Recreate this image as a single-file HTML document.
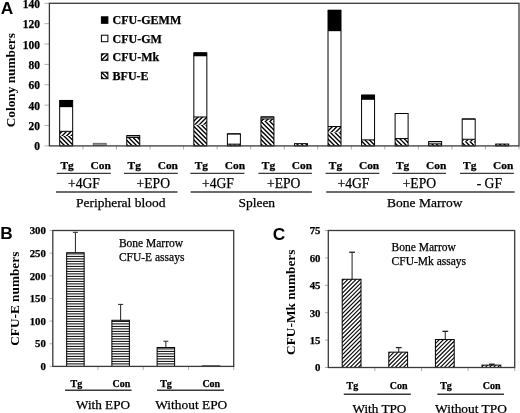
<!DOCTYPE html>
<html><head><meta charset="utf-8"><title>Figure</title>
<style>
html,body{margin:0;padding:0;background:#fff;width:520px;height:413px;overflow:hidden;}
svg{display:block;font-family:"Liberation Serif", serif;will-change:transform;}
</style></head><body>
<svg width="520" height="413" viewBox="0 0 520 413">
<rect width="520" height="413" fill="#fff"/>
<defs>
<pattern id="pbk" patternUnits="userSpaceOnUse" width="2.64" height="10" patternTransform="rotate(-45)"><rect width="2.64" height="10" fill="#fff"/><rect x="0" width="1.3" height="10" fill="#000"/></pattern>
<pattern id="pfw" patternUnits="userSpaceOnUse" width="2.64" height="10" patternTransform="rotate(45)"><rect width="2.64" height="10" fill="#fff"/><rect x="0" width="1.3" height="10" fill="#000"/></pattern>
<pattern id="pfc" patternUnits="userSpaceOnUse" width="2.9" height="10" patternTransform="rotate(45)"><rect width="2.9" height="10" fill="#fff"/><rect x="0" width="1.25" height="10" fill="#000"/></pattern>
<pattern id="phz" patternUnits="userSpaceOnUse" width="10" height="2.5"><rect width="10" height="2.5" fill="#fff"/><rect y="0" width="10" height="1.1" fill="#000"/></pattern>
</defs>
<text x="0.7" y="13.8" font-size="17.3" font-weight="bold" text-anchor="start" style='font-family:"Liberation Sans", sans-serif' >A</text>
<text x="0.2" y="239.3" font-size="17.3" font-weight="bold" text-anchor="start" style='font-family:"Liberation Sans", sans-serif' >B</text>
<text x="272.7" y="239.7" font-size="17.3" font-weight="bold" text-anchor="start" style='font-family:"Liberation Sans", sans-serif' >C</text>
<line x1="44.5" x2="49.4" y1="145.9" y2="145.9" stroke="#b0b0b0" stroke-width="1"/>
<text x="39.9" y="150.4" font-size="11.5" font-weight="bold" text-anchor="end" style='font-family:"Liberation Serif", serif' stroke="#000" stroke-width="0.25" >0</text>
<line x1="44.5" x2="49.4" y1="125.53" y2="125.53" stroke="#b0b0b0" stroke-width="1"/>
<text x="39.9" y="130.03" font-size="11.5" font-weight="bold" text-anchor="end" style='font-family:"Liberation Serif", serif' stroke="#000" stroke-width="0.25" >20</text>
<line x1="44.5" x2="49.4" y1="105.16" y2="105.16" stroke="#b0b0b0" stroke-width="1"/>
<text x="39.9" y="109.66" font-size="11.5" font-weight="bold" text-anchor="end" style='font-family:"Liberation Serif", serif' stroke="#000" stroke-width="0.25" >40</text>
<line x1="44.5" x2="49.4" y1="84.79" y2="84.79" stroke="#b0b0b0" stroke-width="1"/>
<text x="39.9" y="89.29" font-size="11.5" font-weight="bold" text-anchor="end" style='font-family:"Liberation Serif", serif' stroke="#000" stroke-width="0.25" >60</text>
<line x1="44.5" x2="49.4" y1="64.41" y2="64.41" stroke="#b0b0b0" stroke-width="1"/>
<text x="39.9" y="68.91" font-size="11.5" font-weight="bold" text-anchor="end" style='font-family:"Liberation Serif", serif' stroke="#000" stroke-width="0.25" >80</text>
<line x1="44.5" x2="49.4" y1="44.04" y2="44.04" stroke="#b0b0b0" stroke-width="1"/>
<text x="39.9" y="48.54" font-size="11.5" font-weight="bold" text-anchor="end" style='font-family:"Liberation Serif", serif' stroke="#000" stroke-width="0.25" >100</text>
<line x1="44.5" x2="49.4" y1="23.67" y2="23.67" stroke="#b0b0b0" stroke-width="1"/>
<text x="39.9" y="28.17" font-size="11.5" font-weight="bold" text-anchor="end" style='font-family:"Liberation Serif", serif' stroke="#000" stroke-width="0.25" >120</text>
<line x1="44.5" x2="49.4" y1="3.3" y2="3.3" stroke="#b0b0b0" stroke-width="1"/>
<text x="39.9" y="8.3" font-size="11.5" font-weight="bold" text-anchor="end" style='font-family:"Liberation Serif", serif' stroke="#000" stroke-width="0.25" >140</text>
<line x1="82.94" x2="82.94" y1="145.9" y2="149.5" stroke="#b0b0b0" stroke-width="1"/>
<line x1="116.49" x2="116.49" y1="145.9" y2="149.5" stroke="#b0b0b0" stroke-width="1"/>
<line x1="150.03" x2="150.03" y1="145.9" y2="149.5" stroke="#b0b0b0" stroke-width="1"/>
<line x1="183.57" x2="183.57" y1="145.9" y2="149.5" stroke="#b0b0b0" stroke-width="1"/>
<line x1="217.11" x2="217.11" y1="145.9" y2="149.5" stroke="#b0b0b0" stroke-width="1"/>
<line x1="250.66" x2="250.66" y1="145.9" y2="149.5" stroke="#b0b0b0" stroke-width="1"/>
<line x1="284.2" x2="284.2" y1="145.9" y2="149.5" stroke="#b0b0b0" stroke-width="1"/>
<line x1="317.74" x2="317.74" y1="145.9" y2="149.5" stroke="#b0b0b0" stroke-width="1"/>
<line x1="351.29" x2="351.29" y1="145.9" y2="149.5" stroke="#b0b0b0" stroke-width="1"/>
<line x1="384.83" x2="384.83" y1="145.9" y2="149.5" stroke="#b0b0b0" stroke-width="1"/>
<line x1="418.37" x2="418.37" y1="145.9" y2="149.5" stroke="#b0b0b0" stroke-width="1"/>
<line x1="451.91" x2="451.91" y1="145.9" y2="149.5" stroke="#b0b0b0" stroke-width="1"/>
<line x1="485.46" x2="485.46" y1="145.9" y2="149.5" stroke="#b0b0b0" stroke-width="1"/>
<line x1="519" x2="519" y1="145.9" y2="149.5" stroke="#b0b0b0" stroke-width="1"/>
<clipPath id="c1"><rect x="59.67" y="135.92" width="13" height="9.98"/></clipPath>
<rect x="59.67" y="135.92" width="13" height="9.98" fill="#fff"/>
<path clip-path="url(#c1)" d="M57.67 116.17L74.67 133.17M57.67 120.67L74.67 137.67M57.67 125.17L74.67 142.17M57.67 129.67L74.67 146.67M57.67 134.17L74.67 151.17M57.67 138.67L74.67 155.67M57.67 143.17L74.67 160.17M57.67 147.67L74.67 164.67" stroke="#000" stroke-width="1.4" fill="none"/>
<clipPath id="c2"><rect x="59.67" y="131.33" width="13" height="4.58"/></clipPath>
<rect x="59.67" y="131.33" width="13" height="4.58" fill="#fff"/>
<path clip-path="url(#c2)" d="M57.67 126.83L74.67 109.83M57.67 131.33L74.67 114.33M57.67 135.83L74.67 118.83M57.67 140.33L74.67 123.33M57.67 144.83L74.67 127.83M57.67 149.33L74.67 132.33M57.67 153.83L74.67 136.83" stroke="#000" stroke-width="1.4" fill="none"/>
<rect x="59.67" y="106.58" width="13" height="24.75" fill="#fff"/>
<rect x="59.67" y="100.47" width="13" height="6.11" fill="#000"/>
<line x1="59.67" x2="72.67" y1="131.33" y2="131.33" stroke="#000" stroke-width="1"/>
<line x1="59.67" x2="72.67" y1="106.58" y2="106.58" stroke="#000" stroke-width="1"/>
<line x1="59.67" x2="72.67" y1="106.58" y2="106.58" stroke="#000" stroke-width="1"/>
<line x1="59.67" x2="72.67" y1="100.47" y2="100.47" stroke="#000" stroke-width="1"/>
<rect x="59.67" y="100.47" width="13" height="45.43" fill="none" stroke="#000" stroke-width="1"/>
<rect x="93.21" y="143.3" width="13" height="2.0" fill="#9a9a9a" stroke="#555" stroke-width="0.8"/>
<clipPath id="c3"><rect x="126.76" y="137.45" width="13" height="8.45"/></clipPath>
<rect x="126.76" y="137.45" width="13" height="8.45" fill="#fff"/>
<path clip-path="url(#c3)" d="M124.76 115.76L141.76 132.76M124.76 120.26L141.76 137.26M124.76 124.76L141.76 141.76M124.76 129.26L141.76 146.26M124.76 133.76L141.76 150.76M124.76 138.26L141.76 155.26M124.76 142.76L141.76 159.76M124.76 147.26L141.76 164.26" stroke="#000" stroke-width="1.4" fill="none"/>
<rect x="126.76" y="135.71" width="13" height="1.73" fill="#fff"/>
<line x1="126.76" x2="139.76" y1="137.45" y2="137.45" stroke="#000" stroke-width="1"/>
<line x1="126.76" x2="139.76" y1="135.71" y2="135.71" stroke="#000" stroke-width="1"/>
<rect x="126.76" y="135.71" width="13" height="10.19" fill="none" stroke="#000" stroke-width="1"/>
<clipPath id="c4"><rect x="193.84" y="124.71" width="13" height="21.19"/></clipPath>
<rect x="193.84" y="124.71" width="13" height="21.19" fill="#fff"/>
<path clip-path="url(#c4)" d="M191.84 101.84L208.84 118.84M191.84 106.34L208.84 123.34M191.84 110.84L208.84 127.84M191.84 115.34L208.84 132.34M191.84 119.84L208.84 136.84M191.84 124.34L208.84 141.34M191.84 128.84L208.84 145.84M191.84 133.34L208.84 150.34M191.84 137.84L208.84 154.84M191.84 142.34L208.84 159.34M191.84 146.84L208.84 163.84" stroke="#000" stroke-width="1.4" fill="none"/>
<clipPath id="c5"><rect x="193.84" y="116.97" width="13" height="7.74"/></clipPath>
<rect x="193.84" y="116.97" width="13" height="7.74" fill="#fff"/>
<path clip-path="url(#c5)" d="M191.84 114.16L208.84 97.16M191.84 118.66L208.84 101.66M191.84 123.16L208.84 106.16M191.84 127.66L208.84 110.66M191.84 132.16L208.84 115.16M191.84 136.66L208.84 119.66M191.84 141.16L208.84 124.16" stroke="#000" stroke-width="1.4" fill="none"/>
<rect x="193.84" y="55.65" width="13" height="61.32" fill="#fff"/>
<rect x="193.84" y="52.9" width="13" height="2.75" fill="#000"/>
<line x1="193.84" x2="206.84" y1="116.97" y2="116.97" stroke="#000" stroke-width="1"/>
<line x1="193.84" x2="206.84" y1="55.65" y2="55.65" stroke="#000" stroke-width="1"/>
<line x1="193.84" x2="206.84" y1="55.65" y2="55.65" stroke="#000" stroke-width="1"/>
<line x1="193.84" x2="206.84" y1="52.9" y2="52.9" stroke="#000" stroke-width="1"/>
<rect x="193.84" y="52.9" width="13" height="93" fill="none" stroke="#000" stroke-width="1"/>
<clipPath id="c6"><rect x="227.39" y="144.17" width="13" height="1.73"/></clipPath>
<rect x="227.39" y="144.17" width="13" height="1.73" fill="#fff"/>
<path clip-path="url(#c6)" d="M225.39 121.89L242.39 138.89M225.39 126.39L242.39 143.39M225.39 130.89L242.39 147.89M225.39 135.39L242.39 152.39M225.39 139.89L242.39 156.89M225.39 144.39L242.39 161.39" stroke="#000" stroke-width="1.4" fill="none"/>
<rect x="227.39" y="133.88" width="13" height="10.29" fill="#fff"/>
<line x1="227.39" x2="240.39" y1="144.17" y2="144.17" stroke="#000" stroke-width="1"/>
<line x1="227.39" x2="240.39" y1="133.88" y2="133.88" stroke="#000" stroke-width="1"/>
<rect x="227.39" y="133.88" width="13" height="12.02" fill="none" stroke="#000" stroke-width="1"/>
<clipPath id="c7"><rect x="260.93" y="120.95" width="13" height="24.95"/></clipPath>
<rect x="260.93" y="120.95" width="13" height="24.95" fill="#fff"/>
<path clip-path="url(#c7)" d="M258.93 101.43L275.93 118.43M258.93 105.93L275.93 122.93M258.93 110.43L275.93 127.43M258.93 114.93L275.93 131.93M258.93 119.43L275.93 136.43M258.93 123.93L275.93 140.93M258.93 128.43L275.93 145.43M258.93 132.93L275.93 149.93M258.93 137.43L275.93 154.43M258.93 141.93L275.93 158.93M258.93 146.43L275.93 163.43" stroke="#000" stroke-width="1.4" fill="none"/>
<clipPath id="c8"><rect x="260.93" y="118.91" width="13" height="2.04"/></clipPath>
<rect x="260.93" y="118.91" width="13" height="2.04" fill="#fff"/>
<path clip-path="url(#c8)" d="M258.93 114.57L275.93 97.57M258.93 119.07L275.93 102.07M258.93 123.57L275.93 106.57M258.93 128.07L275.93 111.07M258.93 132.57L275.93 115.57M258.93 137.07L275.93 120.07" stroke="#000" stroke-width="1.4" fill="none"/>
<rect x="260.93" y="116.97" width="13" height="1.94" fill="#fff"/>
<line x1="260.93" x2="273.93" y1="118.91" y2="118.91" stroke="#000" stroke-width="1"/>
<line x1="260.93" x2="273.93" y1="116.97" y2="116.97" stroke="#000" stroke-width="1"/>
<rect x="260.93" y="116.97" width="13" height="28.93" fill="none" stroke="#000" stroke-width="1"/>
<clipPath id="c9"><rect x="294.47" y="143.66" width="13" height="2.24"/></clipPath>
<rect x="294.47" y="143.66" width="13" height="2.24" fill="#fff"/>
<path clip-path="url(#c9)" d="M292.47 121.47L309.47 138.47M292.47 125.97L309.47 142.97M292.47 130.47L309.47 147.47M292.47 134.97L309.47 151.97M292.47 139.47L309.47 156.47M292.47 143.97L309.47 160.97" stroke="#000" stroke-width="1.4" fill="none"/>
<rect x="294.47" y="143.66" width="13" height="2.24" fill="none" stroke="#000" stroke-width="1"/>
<clipPath id="c10"><rect x="328.01" y="132.25" width="13" height="13.65"/></clipPath>
<rect x="328.01" y="132.25" width="13" height="13.65" fill="#fff"/>
<path clip-path="url(#c10)" d="M326.01 110.01L343.01 127.01M326.01 114.51L343.01 131.51M326.01 119.01L343.01 136.01M326.01 123.51L343.01 140.51M326.01 128.01L343.01 145.01M326.01 132.51L343.01 149.51M326.01 137.01L343.01 154.01M326.01 141.51L343.01 158.51M326.01 146.01L343.01 163.01" stroke="#000" stroke-width="1.4" fill="none"/>
<clipPath id="c11"><rect x="328.01" y="126.55" width="13" height="5.7"/></clipPath>
<rect x="328.01" y="126.55" width="13" height="5.7" fill="#fff"/>
<path clip-path="url(#c11)" d="M326.01 123.99L343.01 106.99M326.01 128.49L343.01 111.49M326.01 132.99L343.01 115.99M326.01 137.49L343.01 120.49M326.01 141.99L343.01 124.99M326.01 146.49L343.01 129.49M326.01 150.99L343.01 133.99" stroke="#000" stroke-width="1.4" fill="none"/>
<rect x="328.01" y="30.6" width="13" height="95.95" fill="#fff"/>
<rect x="328.01" y="10.33" width="13" height="20.27" fill="#000"/>
<line x1="328.01" x2="341.01" y1="126.55" y2="126.55" stroke="#000" stroke-width="1"/>
<line x1="328.01" x2="341.01" y1="30.6" y2="30.6" stroke="#000" stroke-width="1"/>
<line x1="328.01" x2="341.01" y1="30.6" y2="30.6" stroke="#000" stroke-width="1"/>
<line x1="328.01" x2="341.01" y1="10.33" y2="10.33" stroke="#000" stroke-width="1"/>
<rect x="328.01" y="10.33" width="13" height="135.57" fill="none" stroke="#000" stroke-width="1"/>
<clipPath id="c12"><rect x="361.56" y="139.89" width="13" height="6.01"/></clipPath>
<rect x="361.56" y="139.89" width="13" height="6.01" fill="#fff"/>
<path clip-path="url(#c12)" d="M359.56 116.56L376.56 133.56M359.56 121.06L376.56 138.06M359.56 125.56L376.56 142.56M359.56 130.06L376.56 147.06M359.56 134.56L376.56 151.56M359.56 139.06L376.56 156.06M359.56 143.56L376.56 160.56M359.56 148.06L376.56 165.06" stroke="#000" stroke-width="1.4" fill="none"/>
<rect x="361.56" y="99.05" width="13" height="40.84" fill="#fff"/>
<rect x="361.56" y="95.18" width="13" height="3.87" fill="#000"/>
<line x1="361.56" x2="374.56" y1="139.89" y2="139.89" stroke="#000" stroke-width="1"/>
<line x1="361.56" x2="374.56" y1="99.05" y2="99.05" stroke="#000" stroke-width="1"/>
<line x1="361.56" x2="374.56" y1="99.05" y2="99.05" stroke="#000" stroke-width="1"/>
<line x1="361.56" x2="374.56" y1="95.18" y2="95.18" stroke="#000" stroke-width="1"/>
<rect x="361.56" y="95.18" width="13" height="50.72" fill="none" stroke="#000" stroke-width="1"/>
<clipPath id="c13"><rect x="395.1" y="140.09" width="13" height="5.81"/></clipPath>
<rect x="395.1" y="140.09" width="13" height="5.81" fill="#fff"/>
<path clip-path="url(#c13)" d="M393.1 118.6L410.1 135.6M393.1 123.1L410.1 140.1M393.1 127.6L410.1 144.6M393.1 132.1L410.1 149.1M393.1 136.6L410.1 153.6M393.1 141.1L410.1 158.1M393.1 145.6L410.1 162.6" stroke="#000" stroke-width="1.4" fill="none"/>
<clipPath id="c14"><rect x="395.1" y="138.57" width="13" height="1.53"/></clipPath>
<rect x="395.1" y="138.57" width="13" height="1.53" fill="#fff"/>
<path clip-path="url(#c14)" d="M393.1 133.4L410.1 116.4M393.1 137.9L410.1 120.9M393.1 142.4L410.1 125.4M393.1 146.9L410.1 129.9M393.1 151.4L410.1 134.4M393.1 155.9L410.1 138.9" stroke="#000" stroke-width="1.4" fill="none"/>
<rect x="395.1" y="113.51" width="13" height="25.06" fill="#fff"/>
<line x1="395.1" x2="408.1" y1="138.57" y2="138.57" stroke="#000" stroke-width="1"/>
<line x1="395.1" x2="408.1" y1="113.51" y2="113.51" stroke="#000" stroke-width="1"/>
<rect x="395.1" y="113.51" width="13" height="32.39" fill="none" stroke="#000" stroke-width="1"/>
<clipPath id="c15"><rect x="428.64" y="143.86" width="13" height="2.04"/></clipPath>
<rect x="428.64" y="143.86" width="13" height="2.04" fill="#fff"/>
<path clip-path="url(#c15)" d="M426.64 120.64L443.64 137.64M426.64 125.14L443.64 142.14M426.64 129.64L443.64 146.64M426.64 134.14L443.64 151.14M426.64 138.64L443.64 155.64M426.64 143.14L443.64 160.14M426.64 147.64L443.64 164.64" stroke="#000" stroke-width="1.4" fill="none"/>
<rect x="428.64" y="141.62" width="13" height="2.24" fill="#fff"/>
<line x1="428.64" x2="441.64" y1="143.86" y2="143.86" stroke="#000" stroke-width="1"/>
<line x1="428.64" x2="441.64" y1="141.62" y2="141.62" stroke="#000" stroke-width="1"/>
<rect x="428.64" y="141.62" width="13" height="4.28" fill="none" stroke="#000" stroke-width="1"/>
<clipPath id="c16"><rect x="462.19" y="141.83" width="13" height="4.07"/></clipPath>
<rect x="462.19" y="141.83" width="13" height="4.07" fill="#fff"/>
<path clip-path="url(#c16)" d="M460.19 118.19L477.19 135.19M460.19 122.69L477.19 139.69M460.19 127.19L477.19 144.19M460.19 131.69L477.19 148.69M460.19 136.19L477.19 153.19M460.19 140.69L477.19 157.69M460.19 145.19L477.19 162.19" stroke="#000" stroke-width="1.4" fill="none"/>
<clipPath id="c17"><rect x="462.19" y="139.28" width="13" height="2.55"/></clipPath>
<rect x="462.19" y="139.28" width="13" height="2.55" fill="#fff"/>
<path clip-path="url(#c17)" d="M460.19 133.81L477.19 116.81M460.19 138.31L477.19 121.31M460.19 142.81L477.19 125.81M460.19 147.31L477.19 130.31M460.19 151.81L477.19 134.81M460.19 156.31L477.19 139.31M460.19 160.81L477.19 143.81" stroke="#000" stroke-width="1.4" fill="none"/>
<rect x="462.19" y="119.01" width="13" height="20.27" fill="#fff"/>
<line x1="462.19" x2="475.19" y1="139.28" y2="139.28" stroke="#000" stroke-width="1"/>
<line x1="462.19" x2="475.19" y1="119.01" y2="119.01" stroke="#000" stroke-width="1"/>
<rect x="462.19" y="119.01" width="13" height="26.89" fill="none" stroke="#000" stroke-width="1"/>
<clipPath id="c18"><rect x="495.73" y="144.07" width="13" height="1.83"/></clipPath>
<rect x="495.73" y="144.07" width="13" height="1.83" fill="#fff"/>
<path clip-path="url(#c18)" d="M493.73 120.23L510.73 137.23M493.73 124.73L510.73 141.73M493.73 129.23L510.73 146.23M493.73 133.73L510.73 150.73M493.73 138.23L510.73 155.23M493.73 142.73L510.73 159.73M493.73 147.23L510.73 164.23" stroke="#000" stroke-width="1.4" fill="none"/>
<rect x="495.73" y="144.07" width="13" height="1.83" fill="none" stroke="#000" stroke-width="1"/>
<rect x="49.4" y="3.3" width="469.6" height="142.6" fill="none" stroke="#3a3a3a" stroke-width="1.3"/>
<rect x="101.4" y="16.8" width="6.5" height="6.5" fill="#000" stroke="#000" stroke-width="1"/>
<text x="112.6" y="24" font-size="12" font-weight="bold" text-anchor="start" style='font-family:"Liberation Serif", serif' stroke="#000" stroke-width="0.25" >CFU-GEMM</text>
<rect x="101.4" y="35.2" width="6.5" height="6.5" fill="#fff" stroke="#000" stroke-width="1"/>
<text x="112.6" y="42.5" font-size="12" font-weight="bold" text-anchor="start" style='font-family:"Liberation Serif", serif' stroke="#000" stroke-width="0.25" >CFU-GM</text>
<clipPath id="c19"><rect x="101.4" y="53.8" width="6.5" height="6.5"/></clipPath>
<rect x="101.4" y="53.8" width="6.5" height="6.5" fill="#fff"/>
<path clip-path="url(#c19)" d="M99.4 48.8L109.9 38.3M99.4 53.3L109.9 42.8M99.4 57.8L109.9 47.3M99.4 62.3L109.9 51.8M99.4 66.8L109.9 56.3M99.4 71.3L109.9 60.8" stroke="#000" stroke-width="1.4" fill="none"/>
<rect x="101.4" y="53.8" width="6.5" height="6.5" fill="none" stroke="#000" stroke-width="1"/>
<text x="112.6" y="61.1" font-size="12" font-weight="bold" text-anchor="start" style='font-family:"Liberation Serif", serif' stroke="#000" stroke-width="0.25" >CFU-Mk</text>
<clipPath id="c20"><rect x="101.4" y="72.2" width="6.5" height="6.5"/></clipPath>
<rect x="101.4" y="72.2" width="6.5" height="6.5" fill="#fff"/>
<path clip-path="url(#c20)" d="M99.4 56.7L109.9 67.2M99.4 61.2L109.9 71.7M99.4 65.7L109.9 76.2M99.4 70.2L109.9 80.7M99.4 74.7L109.9 85.2M99.4 79.2L109.9 89.7" stroke="#000" stroke-width="1.4" fill="none"/>
<rect x="101.4" y="72.2" width="6.5" height="6.5" fill="none" stroke="#000" stroke-width="1"/>
<text x="112.6" y="79.8" font-size="12" font-weight="bold" text-anchor="start" style='font-family:"Liberation Serif", serif' stroke="#000" stroke-width="0.25" >BFU-E</text>
<text transform="translate(15.2,80.2) rotate(-90)" font-size="13.3" font-weight="bold" text-anchor="middle" style='font-family:"Liberation Serif", serif'>Colony numbers</text>
<text x="67.17" y="168.8" font-size="11.4" font-weight="bold" text-anchor="middle" style='font-family:"Liberation Serif", serif' stroke="#000" stroke-width="0.25" >Tg</text>
<text x="100.71" y="168.8" font-size="11.4" font-weight="bold" text-anchor="middle" style='font-family:"Liberation Serif", serif' stroke="#000" stroke-width="0.25" >Con</text>
<text x="134.26" y="168.8" font-size="11.4" font-weight="bold" text-anchor="middle" style='font-family:"Liberation Serif", serif' stroke="#000" stroke-width="0.25" >Tg</text>
<text x="167.8" y="168.8" font-size="11.4" font-weight="bold" text-anchor="middle" style='font-family:"Liberation Serif", serif' stroke="#000" stroke-width="0.25" >Con</text>
<text x="201.34" y="168.8" font-size="11.4" font-weight="bold" text-anchor="middle" style='font-family:"Liberation Serif", serif' stroke="#000" stroke-width="0.25" >Tg</text>
<text x="234.89" y="168.8" font-size="11.4" font-weight="bold" text-anchor="middle" style='font-family:"Liberation Serif", serif' stroke="#000" stroke-width="0.25" >Con</text>
<text x="268.43" y="168.8" font-size="11.4" font-weight="bold" text-anchor="middle" style='font-family:"Liberation Serif", serif' stroke="#000" stroke-width="0.25" >Tg</text>
<text x="301.97" y="168.8" font-size="11.4" font-weight="bold" text-anchor="middle" style='font-family:"Liberation Serif", serif' stroke="#000" stroke-width="0.25" >Con</text>
<text x="335.51" y="168.8" font-size="11.4" font-weight="bold" text-anchor="middle" style='font-family:"Liberation Serif", serif' stroke="#000" stroke-width="0.25" >Tg</text>
<text x="369.06" y="168.8" font-size="11.4" font-weight="bold" text-anchor="middle" style='font-family:"Liberation Serif", serif' stroke="#000" stroke-width="0.25" >Con</text>
<text x="402.6" y="168.8" font-size="11.4" font-weight="bold" text-anchor="middle" style='font-family:"Liberation Serif", serif' stroke="#000" stroke-width="0.25" >Tg</text>
<text x="436.14" y="168.8" font-size="11.4" font-weight="bold" text-anchor="middle" style='font-family:"Liberation Serif", serif' stroke="#000" stroke-width="0.25" >Con</text>
<text x="469.69" y="168.8" font-size="11.4" font-weight="bold" text-anchor="middle" style='font-family:"Liberation Serif", serif' stroke="#000" stroke-width="0.25" >Tg</text>
<text x="503.23" y="168.8" font-size="11.4" font-weight="bold" text-anchor="middle" style='font-family:"Liberation Serif", serif' stroke="#000" stroke-width="0.25" >Con</text>
<line x1="56.7" x2="110.8" y1="173.4" y2="173.4" stroke="#3a3a3a" stroke-width="1.4"/>
<line x1="124" x2="177.8" y1="173.4" y2="173.4" stroke="#3a3a3a" stroke-width="1.4"/>
<line x1="190.3" x2="244.4" y1="173.4" y2="173.4" stroke="#3a3a3a" stroke-width="1.4"/>
<line x1="258.5" x2="311.9" y1="173.4" y2="173.4" stroke="#3a3a3a" stroke-width="1.4"/>
<line x1="325.6" x2="379.4" y1="173.4" y2="173.4" stroke="#3a3a3a" stroke-width="1.4"/>
<line x1="392.3" x2="446" y1="173.4" y2="173.4" stroke="#3a3a3a" stroke-width="1.4"/>
<line x1="460.1" x2="513.9" y1="173.4" y2="173.4" stroke="#3a3a3a" stroke-width="1.4"/>
<line x1="56" x2="177.5" y1="192" y2="192" stroke="#3a3a3a" stroke-width="1.4"/>
<line x1="190.6" x2="311.9" y1="192" y2="192" stroke="#3a3a3a" stroke-width="1.4"/>
<line x1="326.2" x2="514.6" y1="192" y2="192" stroke="#3a3a3a" stroke-width="1.4"/>
<text x="84" y="187.6" font-size="13.6" font-weight="normal" text-anchor="middle" style='font-family:"Liberation Serif", serif' stroke="#000" stroke-width="0.25" >+4GF</text>
<text x="153.3" y="187.6" font-size="13.6" font-weight="normal" text-anchor="middle" style='font-family:"Liberation Serif", serif' stroke="#000" stroke-width="0.25" >+EPO</text>
<text x="218" y="187.6" font-size="13.6" font-weight="normal" text-anchor="middle" style='font-family:"Liberation Serif", serif' stroke="#000" stroke-width="0.25" >+4GF</text>
<text x="283.75" y="187.6" font-size="13.6" font-weight="normal" text-anchor="middle" style='font-family:"Liberation Serif", serif' stroke="#000" stroke-width="0.25" >+EPO</text>
<text x="353.4" y="187.6" font-size="13.6" font-weight="normal" text-anchor="middle" style='font-family:"Liberation Serif", serif' stroke="#000" stroke-width="0.25" >+4GF</text>
<text x="419.35" y="187.6" font-size="13.6" font-weight="normal" text-anchor="middle" style='font-family:"Liberation Serif", serif' stroke="#000" stroke-width="0.25" >+EPO</text>
<text x="489.3" y="187.6" font-size="13.6" font-weight="normal" text-anchor="middle" style='font-family:"Liberation Serif", serif' stroke="#000" stroke-width="0.25" >- GF</text>
<text x="120.7" y="207.2" font-size="13.5" font-weight="normal" text-anchor="middle" style='font-family:"Liberation Serif", serif' stroke="#000" stroke-width="0.25" >Peripheral blood</text>
<text x="256.75" y="207.2" font-size="13.5" font-weight="normal" text-anchor="middle" style='font-family:"Liberation Serif", serif' stroke="#000" stroke-width="0.25" >Spleen</text>
<text x="424.8" y="207.2" font-size="13.5" font-weight="normal" text-anchor="middle" style='font-family:"Liberation Serif", serif' stroke="#000" stroke-width="0.25" >Bone Marrow</text>
<line x1="49.5" x2="52.8" y1="366.4" y2="366.4" stroke="#b0b0b0" stroke-width="1"/>
<text x="45.9" y="370.1" font-size="10.8" font-weight="bold" text-anchor="end" style='font-family:"Liberation Serif", serif' stroke="#000" stroke-width="0.25" >0</text>
<line x1="49.5" x2="52.8" y1="343.75" y2="343.75" stroke="#b0b0b0" stroke-width="1"/>
<text x="45.9" y="347.45" font-size="10.8" font-weight="bold" text-anchor="end" style='font-family:"Liberation Serif", serif' stroke="#000" stroke-width="0.25" >50</text>
<line x1="49.5" x2="52.8" y1="321.1" y2="321.1" stroke="#b0b0b0" stroke-width="1"/>
<text x="45.9" y="324.8" font-size="10.8" font-weight="bold" text-anchor="end" style='font-family:"Liberation Serif", serif' stroke="#000" stroke-width="0.25" >100</text>
<line x1="49.5" x2="52.8" y1="298.45" y2="298.45" stroke="#b0b0b0" stroke-width="1"/>
<text x="45.9" y="302.15" font-size="10.8" font-weight="bold" text-anchor="end" style='font-family:"Liberation Serif", serif' stroke="#000" stroke-width="0.25" >150</text>
<line x1="49.5" x2="52.8" y1="275.8" y2="275.8" stroke="#b0b0b0" stroke-width="1"/>
<text x="45.9" y="279.5" font-size="10.8" font-weight="bold" text-anchor="end" style='font-family:"Liberation Serif", serif' stroke="#000" stroke-width="0.25" >200</text>
<line x1="49.5" x2="52.8" y1="253.15" y2="253.15" stroke="#b0b0b0" stroke-width="1"/>
<text x="45.9" y="256.85" font-size="10.8" font-weight="bold" text-anchor="end" style='font-family:"Liberation Serif", serif' stroke="#000" stroke-width="0.25" >250</text>
<line x1="49.5" x2="52.8" y1="230.5" y2="230.5" stroke="#b0b0b0" stroke-width="1"/>
<text x="45.9" y="234.2" font-size="10.8" font-weight="bold" text-anchor="end" style='font-family:"Liberation Serif", serif' stroke="#000" stroke-width="0.25" >300</text>
<line x1="98.02" x2="98.02" y1="366.4" y2="370" stroke="#b0b0b0" stroke-width="1"/>
<line x1="143.25" x2="143.25" y1="366.4" y2="370" stroke="#b0b0b0" stroke-width="1"/>
<line x1="188.47" x2="188.47" y1="366.4" y2="370" stroke="#b0b0b0" stroke-width="1"/>
<line x1="233.7" x2="233.7" y1="366.4" y2="370" stroke="#b0b0b0" stroke-width="1"/>
<line x1="75.41" x2="75.41" y1="252.7" y2="232.31" stroke="#222" stroke-width="1"/>
<line x1="72.91" x2="77.91" y1="232.31" y2="232.31" stroke="#222" stroke-width="1"/>
<rect x="66.66" y="252.7" width="17.5" height="113.7" fill="#fff"/>
<path d="M66.66 363.9H84.16M66.66 361.4H84.16M66.66 358.9H84.16M66.66 356.4H84.16M66.66 353.9H84.16M66.66 351.4H84.16M66.66 348.9H84.16M66.66 346.4H84.16M66.66 343.9H84.16M66.66 341.4H84.16M66.66 338.9H84.16M66.66 336.4H84.16M66.66 333.9H84.16M66.66 331.4H84.16M66.66 328.9H84.16M66.66 326.4H84.16M66.66 323.9H84.16M66.66 321.4H84.16M66.66 318.9H84.16M66.66 316.4H84.16M66.66 313.9H84.16M66.66 311.4H84.16M66.66 308.9H84.16M66.66 306.4H84.16M66.66 303.9H84.16M66.66 301.4H84.16M66.66 298.9H84.16M66.66 296.4H84.16M66.66 293.9H84.16M66.66 291.4H84.16M66.66 288.9H84.16M66.66 286.4H84.16M66.66 283.9H84.16M66.66 281.4H84.16M66.66 278.9H84.16M66.66 276.4H84.16M66.66 273.9H84.16M66.66 271.4H84.16M66.66 268.9H84.16M66.66 266.4H84.16M66.66 263.9H84.16M66.66 261.4H84.16M66.66 258.9H84.16M66.66 256.4H84.16M66.66 253.9H84.16" stroke="#000" stroke-width="1" fill="none"/>
<rect x="66.66" y="252.7" width="17.5" height="113.7" fill="none" stroke="#000" stroke-width="1"/>
<line x1="120.64" x2="120.64" y1="320.28" y2="304.38" stroke="#222" stroke-width="1"/>
<line x1="118.14" x2="123.14" y1="304.38" y2="304.38" stroke="#222" stroke-width="1"/>
<rect x="111.89" y="320.28" width="17.5" height="46.12" fill="#fff"/>
<path d="M111.89 363.9H129.39M111.89 361.4H129.39M111.89 358.9H129.39M111.89 356.4H129.39M111.89 353.9H129.39M111.89 351.4H129.39M111.89 348.9H129.39M111.89 346.4H129.39M111.89 343.9H129.39M111.89 341.4H129.39M111.89 338.9H129.39M111.89 336.4H129.39M111.89 333.9H129.39M111.89 331.4H129.39M111.89 328.9H129.39M111.89 326.4H129.39M111.89 323.9H129.39M111.89 321.4H129.39" stroke="#000" stroke-width="1" fill="none"/>
<rect x="111.89" y="320.28" width="17.5" height="46.12" fill="none" stroke="#000" stroke-width="1"/>
<line x1="165.86" x2="165.86" y1="347.51" y2="341.21" stroke="#222" stroke-width="1"/>
<line x1="163.36" x2="168.36" y1="341.21" y2="341.21" stroke="#222" stroke-width="1"/>
<rect x="157.11" y="347.51" width="17.5" height="18.89" fill="#fff"/>
<path d="M157.11 363.9H174.61M157.11 361.4H174.61M157.11 358.9H174.61M157.11 356.4H174.61M157.11 353.9H174.61M157.11 351.4H174.61M157.11 348.9H174.61" stroke="#000" stroke-width="1" fill="none"/>
<rect x="157.11" y="347.51" width="17.5" height="18.89" fill="none" stroke="#000" stroke-width="1"/>
<rect x="202.34" y="365.95" width="17.5" height="0.45" fill="#fff"/>
<rect x="202.34" y="365.95" width="17.5" height="0.45" fill="none" stroke="#000" stroke-width="1"/>
<rect x="52.8" y="230.5" width="180.9" height="135.9" fill="none" stroke="#3a3a3a" stroke-width="1.3"/>
<text x="118.9" y="246.9" font-size="11.5" font-weight="normal" text-anchor="start" style='font-family:"Liberation Serif", serif' stroke="#000" stroke-width="0.25" >Bone Marrow</text>
<text x="118.9" y="260.9" font-size="11.5" font-weight="normal" text-anchor="start" style='font-family:"Liberation Serif", serif' stroke="#000" stroke-width="0.25" >CFU-E assays</text>
<text transform="translate(18.9,298.75) rotate(-90)" font-size="13.3" font-weight="bold" text-anchor="middle" style='font-family:"Liberation Serif", serif'>CFU-E numbers</text>
<text x="76.45" y="386.5" font-size="10" font-weight="bold" text-anchor="middle" style='font-family:"Liberation Serif", serif' stroke="#000" stroke-width="0.25" >Tg</text>
<text x="121.5" y="386.5" font-size="10" font-weight="bold" text-anchor="middle" style='font-family:"Liberation Serif", serif' stroke="#000" stroke-width="0.25" >Con</text>
<text x="166" y="386.5" font-size="10" font-weight="bold" text-anchor="middle" style='font-family:"Liberation Serif", serif' stroke="#000" stroke-width="0.25" >Tg</text>
<text x="211.3" y="386.5" font-size="10" font-weight="bold" text-anchor="middle" style='font-family:"Liberation Serif", serif' stroke="#000" stroke-width="0.25" >Con</text>
<line x1="65" x2="131.6" y1="390.3" y2="390.3" stroke="#3a3a3a" stroke-width="1.4"/>
<line x1="157" x2="224" y1="390.3" y2="390.3" stroke="#3a3a3a" stroke-width="1.4"/>
<text x="103" y="408.7" font-size="13.2" font-weight="normal" text-anchor="middle" style='font-family:"Liberation Serif", serif' stroke="#000" stroke-width="0.25" >With EPO</text>
<text x="191.25" y="408.7" font-size="13.4" font-weight="normal" text-anchor="middle" style='font-family:"Liberation Serif", serif' stroke="#000" stroke-width="0.25" >Without EPO</text>
<line x1="325" x2="328.3" y1="367.5" y2="367.5" stroke="#b0b0b0" stroke-width="1"/>
<text x="320.5" y="371.3" font-size="10.8" font-weight="bold" text-anchor="end" style='font-family:"Liberation Serif", serif' stroke="#000" stroke-width="0.25" >0</text>
<line x1="325" x2="328.3" y1="340.1" y2="340.1" stroke="#b0b0b0" stroke-width="1"/>
<text x="320.5" y="343.9" font-size="10.8" font-weight="bold" text-anchor="end" style='font-family:"Liberation Serif", serif' stroke="#000" stroke-width="0.25" >15</text>
<line x1="325" x2="328.3" y1="312.7" y2="312.7" stroke="#b0b0b0" stroke-width="1"/>
<text x="320.5" y="316.5" font-size="10.8" font-weight="bold" text-anchor="end" style='font-family:"Liberation Serif", serif' stroke="#000" stroke-width="0.25" >30</text>
<line x1="325" x2="328.3" y1="285.3" y2="285.3" stroke="#b0b0b0" stroke-width="1"/>
<text x="320.5" y="289.1" font-size="10.8" font-weight="bold" text-anchor="end" style='font-family:"Liberation Serif", serif' stroke="#000" stroke-width="0.25" >45</text>
<line x1="325" x2="328.3" y1="257.9" y2="257.9" stroke="#b0b0b0" stroke-width="1"/>
<text x="320.5" y="261.7" font-size="10.8" font-weight="bold" text-anchor="end" style='font-family:"Liberation Serif", serif' stroke="#000" stroke-width="0.25" >60</text>
<line x1="325" x2="328.3" y1="230.5" y2="230.5" stroke="#b0b0b0" stroke-width="1"/>
<text x="320.5" y="234.3" font-size="10.8" font-weight="bold" text-anchor="end" style='font-family:"Liberation Serif", serif' stroke="#000" stroke-width="0.25" >75</text>
<line x1="374.9" x2="374.9" y1="367.5" y2="371" stroke="#b0b0b0" stroke-width="1"/>
<line x1="421.5" x2="421.5" y1="367.5" y2="371" stroke="#b0b0b0" stroke-width="1"/>
<line x1="468.1" x2="468.1" y1="367.5" y2="371" stroke="#b0b0b0" stroke-width="1"/>
<line x1="514.7" x2="514.7" y1="367.5" y2="371" stroke="#b0b0b0" stroke-width="1"/>
<line x1="352.1" x2="352.1" y1="279.27" y2="252.24" stroke="#444" stroke-width="1.2"/>
<line x1="349.2" x2="355" y1="252.24" y2="252.24" stroke="#222" stroke-width="1.3"/>
<clipPath id="c21"><rect x="342.2" y="279.27" width="18.8" height="88.23"/></clipPath>
<rect x="342.2" y="279.27" width="18.8" height="88.23" fill="#fff"/>
<path clip-path="url(#c21)" d="M340.2 274.8L363 252M340.2 278.9L363 256.1M340.2 283L363 260.2M340.2 287.1L363 264.3M340.2 291.2L363 268.4M340.2 295.3L363 272.5M340.2 299.4L363 276.6M340.2 303.5L363 280.7M340.2 307.6L363 284.8M340.2 311.7L363 288.9M340.2 315.8L363 293M340.2 319.9L363 297.1M340.2 324L363 301.2M340.2 328.1L363 305.3M340.2 332.2L363 309.4M340.2 336.3L363 313.5M340.2 340.4L363 317.6M340.2 344.5L363 321.7M340.2 348.6L363 325.8M340.2 352.7L363 329.9M340.2 356.8L363 334M340.2 360.9L363 338.1M340.2 365L363 342.2M340.2 369.1L363 346.3M340.2 373.2L363 350.4M340.2 377.3L363 354.5M340.2 381.4L363 358.6M340.2 385.5L363 362.7M340.2 389.6L363 366.8" stroke="#000" stroke-width="1.1" fill="none"/>
<rect x="342.2" y="279.27" width="18.8" height="88.23" fill="none" stroke="#000" stroke-width="1"/>
<line x1="398.7" x2="398.7" y1="352.16" y2="347.59" stroke="#444" stroke-width="1.2"/>
<line x1="395.8" x2="401.6" y1="347.59" y2="347.59" stroke="#222" stroke-width="1.3"/>
<clipPath id="c22"><rect x="388.8" y="352.16" width="18.8" height="15.34"/></clipPath>
<rect x="388.8" y="352.16" width="18.8" height="15.34" fill="#fff"/>
<path clip-path="url(#c22)" d="M386.8 347.1L409.6 324.3M386.8 351.2L409.6 328.4M386.8 355.3L409.6 332.5M386.8 359.4L409.6 336.6M386.8 363.5L409.6 340.7M386.8 367.6L409.6 344.8M386.8 371.7L409.6 348.9M386.8 375.8L409.6 353M386.8 379.9L409.6 357.1M386.8 384L409.6 361.2M386.8 388.1L409.6 365.3M386.8 392.2L409.6 369.4" stroke="#000" stroke-width="1.1" fill="none"/>
<rect x="388.8" y="352.16" width="18.8" height="15.34" fill="none" stroke="#000" stroke-width="1"/>
<line x1="445.3" x2="445.3" y1="339.55" y2="331.33" stroke="#444" stroke-width="1.2"/>
<line x1="442.4" x2="448.2" y1="331.33" y2="331.33" stroke="#222" stroke-width="1.3"/>
<clipPath id="c23"><rect x="435.4" y="339.55" width="18.8" height="27.95"/></clipPath>
<rect x="435.4" y="339.55" width="18.8" height="27.95" fill="#fff"/>
<path clip-path="url(#c23)" d="M433.4 337.4L456.2 314.6M433.4 341.5L456.2 318.7M433.4 345.6L456.2 322.8M433.4 349.7L456.2 326.9M433.4 353.8L456.2 331M433.4 357.9L456.2 335.1M433.4 362L456.2 339.2M433.4 366.1L456.2 343.3M433.4 370.2L456.2 347.4M433.4 374.3L456.2 351.5M433.4 378.4L456.2 355.6M433.4 382.5L456.2 359.7M433.4 386.6L456.2 363.8M433.4 390.7L456.2 367.9" stroke="#000" stroke-width="1.1" fill="none"/>
<rect x="435.4" y="339.55" width="18.8" height="27.95" fill="none" stroke="#000" stroke-width="1"/>
<line x1="491.9" x2="491.9" y1="365.13" y2="364.21" stroke="#444" stroke-width="1.2"/>
<line x1="489" x2="494.8" y1="364.21" y2="364.21" stroke="#222" stroke-width="1.3"/>
<clipPath id="c24"><rect x="482" y="365.13" width="18.8" height="2.37"/></clipPath>
<rect x="482" y="365.13" width="18.8" height="2.37" fill="#fff"/>
<path clip-path="url(#c24)" d="M480 360.5L502.8 337.7M480 364.6L502.8 341.8M480 368.7L502.8 345.9M480 372.8L502.8 350M480 376.9L502.8 354.1M480 381L502.8 358.2M480 385.1L502.8 362.3M480 389.2L502.8 366.4" stroke="#000" stroke-width="1.1" fill="none"/>
<rect x="482" y="365.13" width="18.8" height="2.37" fill="none" stroke="#000" stroke-width="1"/>
<rect x="328.3" y="230.5" width="186.4" height="137" fill="none" stroke="#3a3a3a" stroke-width="1.3"/>
<text x="391.6" y="250.6" font-size="11.5" font-weight="normal" text-anchor="start" style='font-family:"Liberation Serif", serif' stroke="#000" stroke-width="0.25" >Bone Marrow</text>
<text x="391.6" y="264.8" font-size="11.5" font-weight="normal" text-anchor="start" style='font-family:"Liberation Serif", serif' stroke="#000" stroke-width="0.25" >CFU-Mk assays</text>
<text transform="translate(294.8,302.25) rotate(-90)" font-size="13.3" font-weight="bold" text-anchor="middle" style='font-family:"Liberation Serif", serif'>CFU-Mk numbers</text>
<text x="352.4" y="388.8" font-size="10" font-weight="bold" text-anchor="middle" style='font-family:"Liberation Serif", serif' stroke="#000" stroke-width="0.25" >Tg</text>
<text x="398.6" y="388.8" font-size="10" font-weight="bold" text-anchor="middle" style='font-family:"Liberation Serif", serif' stroke="#000" stroke-width="0.25" >Con</text>
<text x="446" y="388.8" font-size="10" font-weight="bold" text-anchor="middle" style='font-family:"Liberation Serif", serif' stroke="#000" stroke-width="0.25" >Tg</text>
<text x="491.7" y="388.8" font-size="10" font-weight="bold" text-anchor="middle" style='font-family:"Liberation Serif", serif' stroke="#000" stroke-width="0.25" >Con</text>
<line x1="343.8" x2="410.8" y1="394.2" y2="394.2" stroke="#3a3a3a" stroke-width="1.4"/>
<line x1="437.3" x2="504" y1="394.2" y2="394.2" stroke="#3a3a3a" stroke-width="1.4"/>
<text x="379.4" y="412.8" font-size="13.2" font-weight="normal" text-anchor="middle" style='font-family:"Liberation Serif", serif' stroke="#000" stroke-width="0.25" >With TPO</text>
<text x="471" y="412.8" font-size="13.4" font-weight="normal" text-anchor="middle" style='font-family:"Liberation Serif", serif' stroke="#000" stroke-width="0.25" >Without TPO</text>
</svg>
</body></html>
